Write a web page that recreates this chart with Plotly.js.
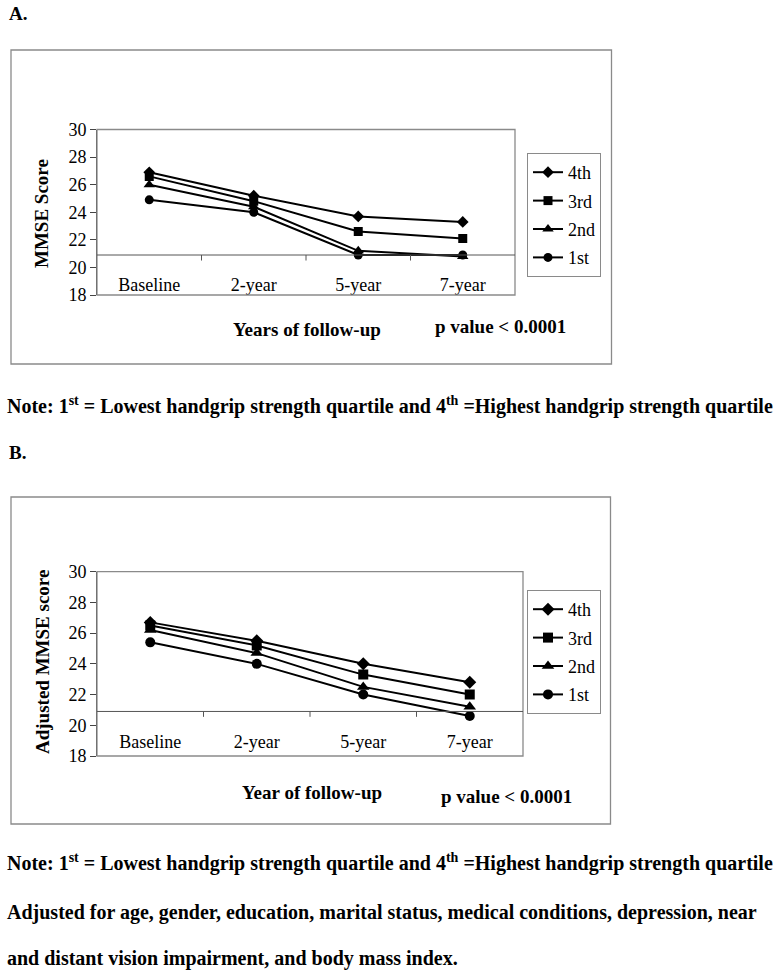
<!DOCTYPE html>
<html>
<head>
<meta charset="utf-8">
<script src="https://cdn.plot.ly/plotly-3.0.1.min.js"></script>
<style>html,body{margin:0;padding:0;background:#fff;}#chart{width:776px;height:972px;}</style>
</head>
<body>
<div id="chart"></div>
<script>
// ---- data ----
const categories = ["Baseline", "2-year", "5-year", "7-year"];
const seriesNames = ["4th", "3rd", "2nd", "1st"];
const symbols = ["diamond", "square", "triangle-up", "circle"];

// Panel A: unadjusted MMSE score
const a4th = [26.9, 25.2, 23.7, 23.3];
const a3rd = [26.6, 24.8, 22.6, 22.1];
const a2nd = [26.0, 24.4, 21.2, 20.8];
const a1st = [24.9, 24.0, 20.9, 20.9];

// Panel B: adjusted MMSE score
const b4th = [26.7, 25.5, 24.0, 22.8];
const b3rd = [26.5, 25.2, 23.3, 22.0];
const b2nd = [26.2, 24.7, 22.5, 21.2];
const b1st = [25.4, 24.0, 22.0, 20.6];

const yTicks = [18, 20, 22, 24, 26, 28, 30];

// ---- layout helpers ----
const W = 776, H = 972;
const px = x => x / W;
const py = y => 1 - y / H;
const FONT = "Liberation Serif";
const crossA = 20.9, crossB = 20.9;

const aData = [a4th, a3rd, a2nd, a1st];
const bData = [b4th, b3rd, b2nd, b1st];
const traces = [];
aData.forEach((vals, i) => traces.push({
  x: categories, y: vals, name: seriesNames[i], type: "scatter", mode: "lines+markers",
  xaxis: "x", yaxis: "y", legend: "legend", legendgroup: "a" + i,
  line: {color: "#000", width: 2}, marker: {symbol: symbols[i], size: i === 2 ? 10 : 9, color: "#000"}
}));
bData.forEach((vals, i) => traces.push({
  x: categories, y: vals, name: seriesNames[i], type: "scatter", mode: "lines+markers",
  xaxis: "x2", yaxis: "y2", legend: "legend2", legendgroup: "b" + i,
  line: {color: "#000", width: 2}, marker: {symbol: symbols[i], size: i === 2 ? 11 : 10, color: "#000"}
}));

const yax = (dom) => ({
  domain: dom, range: [18, 30], tickvals: yTicks, ticks: "outside", ticklen: 6, tickcolor: "#444",
  showline: true, linecolor: "#444", linewidth: 1, showgrid: false, zeroline: false,
  tickfont: {family: FONT, size: 18, color: "#000"}, fixedrange: true
});
const xax = (dom, pos) => ({
  domain: dom, anchor: "free", position: pos, type: "category", range: [-0.5, 3.5],
  showgrid: false, zeroline: false, showline: false, ticks: "",
  tickfont: {family: FONT, size: 18, color: "#000"}, fixedrange: true
});

function frame(xr, yr) {
  return {type: "rect", xref: xr + " domain", yref: yr + " domain", x0: 0, x1: 1, y0: 0, y1: 1,
          line: {color: "#8a8a8a", width: 1.3}};
}
function crossLine(xr, yr, v, tickDrop) {
  const s = [{type: "line", xref: xr + " domain", yref: yr, x0: 0, x1: 1, y0: v, y1: v,
              line: {color: "#555", width: 1}}];
  [0.5, 1.5, 2.5].forEach(b => s.push({type: "line", xref: xr, yref: yr, x0: b, x1: b,
              y0: v, y1: v - tickDrop, line: {color: "#555", width: 1}}));
  return s;
}

const boldFont = (size) => ({family: FONT, size: size, color: "#000", weight: "bold"});
function ann(text, x, y, size, xanchor, textangle) {
  return {text: text, xref: "paper", yref: "paper", x: px(x), y: py(y), showarrow: false,
          xanchor: xanchor || "center", yanchor: "middle", font: boldFont(size), textangle: textangle || 0};
}
const noteText = "Note: 1<sup>st</sup> = Lowest handgrip strength quartile and 4<sup>th</sup> =Highest handgrip strength quartile";

const legendCfg = (top) => ({x: px(527), y: py(top), xanchor: "left", yanchor: "top", bgcolor: "#fff",
           bordercolor: "#8a8a8a", borderwidth: 1, font: {family: FONT, size: 18, color: "#000"},
           traceorder: "grouped", tracegroupgap: 2, itemwidth: 30});

const layout = {
  width: W, height: H, margin: {l: 0, r: 0, t: 0, b: 0},
  paper_bgcolor: "#fff", plot_bgcolor: "#fff", showlegend: true,
  font: {family: FONT, color: "#000"},
  xaxis: xax([px(97), px(515)], py(272)),
  yaxis: yax([py(295), py(129.5)]),
  xaxis2: xax([px(97), px(523)], py(729)),
  yaxis2: yax([py(756), py(571.7)]),
  legend: legendCfg(153),
  legend2: legendCfg(590),
  shapes: [
    {type: "rect", xref: "paper", yref: "paper", x0: px(11), x1: px(611.5), y0: py(364), y1: py(50),
     line: {color: "#8a8a8a", width: 1.3}, layer: "below"},
    {type: "rect", xref: "paper", yref: "paper", x0: px(11), x1: px(610.5), y0: py(824), y1: py(497),
     line: {color: "#8a8a8a", width: 1.3}, layer: "below"},
    frame("x", "y"), frame("x2", "y2"),
    ...crossLine("x", "y", crossA, 0.4),
    ...crossLine("x2", "y2", crossB, 0.35)
  ],
  annotations: [
    ann("A.", 7, 14, 19, "left"),
    ann("MMSE Score", 42, 214, 19, "center", -90),
    ann("Years of follow-up", 307, 330, 19),
    ann("p value < 0.0001", 500, 327, 19),
    ann(noteText, 5, 406, 20, "left"),
    ann("B.", 7, 452, 19, "left"),
    ann("Adjusted MMSE score", 42, 662, 19, "center", -90),
    ann("Year of follow-up", 312, 792, 19),
    ann("p value < 0.0001", 506, 796, 19),
    ann(noteText, 5, 862, 20, "left"),
    ann("Adjusted for age, gender, education, marital status, medical conditions, depression, near", 5, 912, 20, "left"),
    ann("and distant vision impairment, and body mass index.", 5, 958, 20, "left")
  ]
};

Plotly.newPlot("chart", traces, layout, {displayModeBar: false, staticPlot: true});
</script>
</body>
</html>
